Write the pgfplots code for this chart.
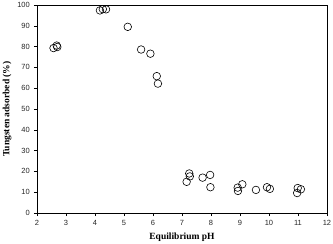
\documentclass[border=0pt]{standalone}
\usepackage{fontspec}
\setmainfont{Liberation Serif}
\newfontfamily\tickfont{Liberation Sans}
\usepackage{pgfplots}
\pgfplotsset{compat=1.18}
\begin{document}
\begin{tikzpicture}
\begin{axis}[
  scale only axis, width=290pt, height=208pt,
  xmin=2, xmax=12, ymin=0, ymax=100,
  xtick={2,3,...,12}, ytick={0,10,...,100},
  axis line style={black, line width=0.6pt},
  tick style={black, line width=0.6pt},
  tick align=outside, major tick length=3pt,
  xtick pos=bottom, ytick pos=left,
  /pgf/number format/assume math mode=true,
  tick label style={font=\tickfont\fontsize{7.5}{8}\selectfont, text=black!85, inner sep=0pt},
  yticklabel style={xshift=-4pt},
  xticklabel style={yshift=-4pt},
  xlabel={Equilibrium pH}, ylabel={Tungsten adsorbed (\%)},
  label style={font=\bfseries\fontsize{9.5}{11}\selectfont},
  xlabel style={at={(axis description cs:0.5,-0.1154)}, anchor=center},
  ylabel style={at={(axis description cs:-0.1034,0.5)}, anchor=center},
]
\addplot[only marks, mark=o, mark size=3.8pt, mark options={black, line width=0.6pt, fill=white}] coordinates {
(2.57,79.3) (2.68,80.5) (2.70,79.8)
(4.17,97.4) (4.27,98.0) (4.38,97.9)
(5.13,89.5) (5.59,78.6) (5.91,76.6) (6.13,65.8) (6.17,62.2)
(7.16,15.0) (7.27,17.6) (7.25,19.0) (7.71,17.0) (7.97,18.3) (7.98,12.4)
(8.92,12.2) (8.93,10.6) (9.08,13.8) (9.55,11.1) (9.93,12.4) (10.03,11.6)
(10.97,9.6) (10.99,12.0) (11.10,11.4)
};
\end{axis}
\pgfresetboundingbox
\path (current axis.south west) ++(-37pt,-31pt) rectangle ([shift={(6pt,5pt)}]current axis.north east);
\end{tikzpicture}
\end{document}
